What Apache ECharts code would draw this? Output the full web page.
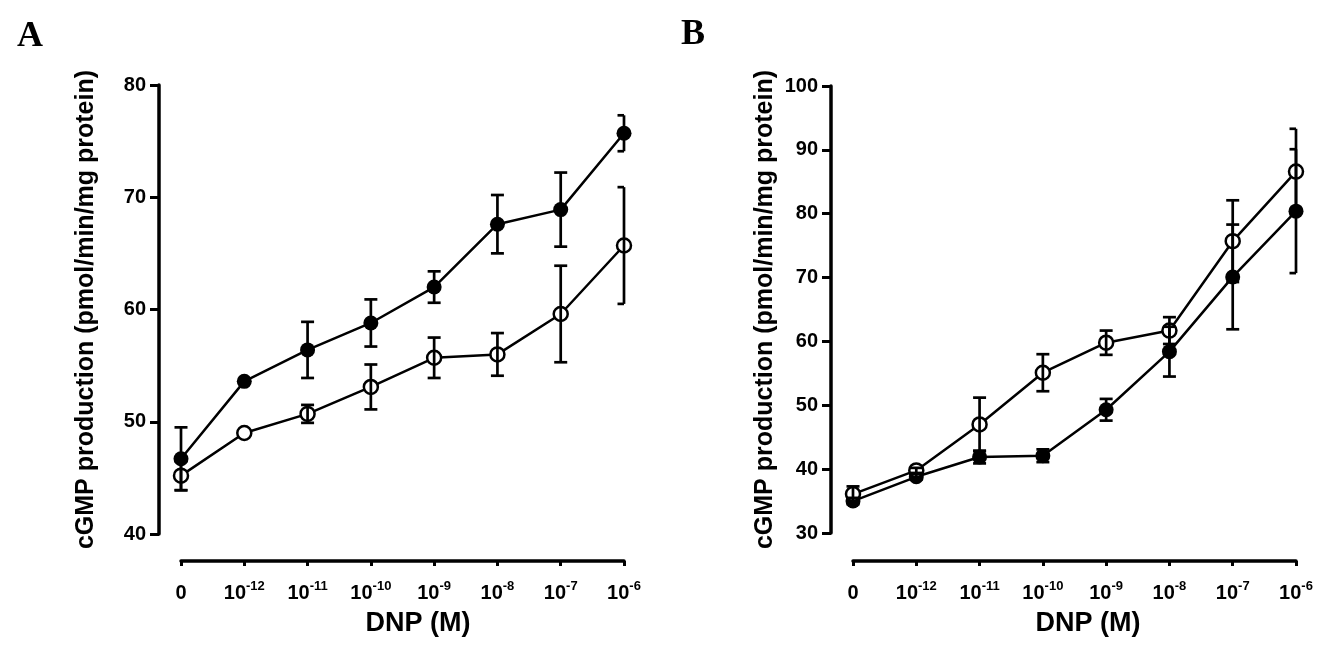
<!DOCTYPE html>
<html>
<head>
<meta charset="utf-8">
<script src="https://cdn.jsdelivr.net/npm/echarts@6/dist/echarts.min.js"></script>
<style>
html,body{margin:0;padding:0;background:#fff;}
#chart{width:1319px;height:656px;}
</style>
</head>
<body>
<div id="chart"></div>
<script>
// ---- data ----
const xExponents = ['0', '-12', '-11', '-10', '-9', '-8', '-7', '-6'];
const yTicksA = { min: 40, max: 80, interval: 10 };
const yTicksB = { min: 30, max: 100, interval: 10 };

const A_filled     = [46.7, 53.6, 56.4, 58.8, 62.0, 67.6, 68.9, 75.7];
const A_filled_err = [2.8, 0, 2.5, 2.1, 1.4, 2.6, 3.3, 1.6];
const A_open       = [45.2, 49.0, 50.7, 53.1, 55.7, 56.0, 59.6, 65.7];
const A_open_err   = [1.3, 0, 0.8, 2.0, 1.8, 1.9, 4.3, 5.2];

const B_open       = [36.1, 39.8, 47.0, 55.1, 59.8, 61.7, 75.7, 86.6];
const B_open_err   = [1.2, 0.4, 4.2, 2.9, 1.9, 2.1, 6.4, 6.7];
const B_filled     = [35.0, 38.8, 41.9, 42.1, 49.3, 58.4, 70.1, 80.4];
const B_filled_err = [0.5, 0.4, 1.0, 1.0, 1.7, 3.9, 8.2, 9.7];

const yTitle = 'cGMP production (pmol/min/mg protein)';
const xTitle = 'DNP (M)';

// ---- chart ----
const FF = '"Liberation Sans", Arial, Helvetica, sans-serif';

function xAxisFor(gi, offset, shift) {
  return {
    type: 'category', gridIndex: gi, data: xExponents, boundaryGap: false,
    offset: offset,
    axisLine: { show: true, onZero: false, lineStyle: { color: '#000', width: 3.5, cap: 'round' } },
    axisTick: { show: true, inside: false, length: 5, lineStyle: { color: '#000', width: 3 } },
    axisLabel: {
      margin: 19, color: '#000', interval: 0,
      formatter: v => v === '0' ? '{b|0}' : '{b|10}{s|' + v + '}',
      rich: {
        b: { fontSize: 20, fontWeight: 'bold', fontFamily: FF, color: '#000', lineHeight: 23, verticalAlign: 'bottom' },
        s: { fontSize: 13, fontWeight: 'bold', fontFamily: FF, color: '#000', lineHeight: 13, verticalAlign: 'top' }
      }
    },
    splitLine: { show: false },
    name: xTitle, nameLocation: 'middle', nameGap: 49,
    nameTextStyle: { fontSize: 27, fontWeight: 'bold', fontFamily: FF, color: '#000', padding: [0, 0, 0, shift] }
  };
}
function yAxisFor(gi, t, nameGap) {
  return {
    type: 'value', gridIndex: gi, min: t.min, max: t.max, interval: t.interval,
    offset: 22,
    axisLine: { show: true, onZero: false, lineStyle: { color: '#000', width: 3.5 } },
    axisTick: { show: true, inside: false, length: 9, lineStyle: { color: '#000', width: 3 } },
    axisLabel: { margin: 13, color: '#000', fontSize: 20, fontWeight: 'bold', fontFamily: FF },
    splitLine: { show: false },
    name: yTitle, nameLocation: 'middle', nameRotate: 90, nameGap: nameGap,
    nameTextStyle: { fontSize: 25, fontWeight: 'bold', fontFamily: FF, color: '#000' }
  };
}

function lineSeries(gi, data, filled) {
  return {
    type: 'line', xAxisIndex: gi, yAxisIndex: gi, data: data,
    symbol: 'circle', symbolSize: filled ? 15 : 14,
    lineStyle: { color: '#000', width: 2.5 },
    itemStyle: filled ? { color: '#000' } : { color: '#fff', borderColor: '#000', borderWidth: 2.5 },
    z: filled ? 3 : 4, animation: false
  };
}
function errSeries(gi, vals, errs) {
  const n = vals.length;
  return {
    type: 'custom', xAxisIndex: gi, yAxisIndex: gi, z: 6, animation: false,
    data: vals.map((v, i) => [i, v, errs[i]]),
    encode: { x: 0, y: 1 },
    renderItem: function (params, api) {
      const x = api.value(0), y = api.value(1), e = api.value(2);
      if (!e) return null;
      const top = api.coord([x, y + e]);
      const bot = api.coord([x, y - e]);
      const hw = 6.5;
      const right = params.dataIndex === n - 1 ? 0 : hw;
      const st = { stroke: '#000', lineWidth: 2.7 };
      return {
        type: 'group',
        children: [
          { type: 'line', shape: { x1: top[0], y1: top[1], x2: bot[0], y2: bot[1] }, style: st },
          { type: 'line', shape: { x1: top[0] - hw, y1: top[1], x2: top[0] + right, y2: top[1] }, style: st },
          { type: 'line', shape: { x1: bot[0] - hw, y1: bot[1], x2: bot[0] + right, y2: bot[1] }, style: st }
        ]
      };
    }
  };
}

const chart = echarts.init(document.getElementById('chart'), null, { renderer: 'canvas' });
chart.setOption({
  backgroundColor: '#fff',
  animation: false,
  grid: [
    { left: 181, right: 695, top: 85, bottom: 122 },
    { left: 853, right: 23, top: 86, bottom: 123 }
  ],
  xAxis: [xAxisFor(0, 27, 31), xAxisFor(1, 28, 27)],
  yAxis: [yAxisFor(0, yTicksA, 60), yAxisFor(1, yTicksB, 53)],
  graphic: [
    { type: 'text', left: 17, top: 19, style: { text: 'A', font: 'bold 36px "Liberation Serif", "Times New Roman", serif', fill: '#000' } },
    { type: 'text', left: 681, top: 17, style: { text: 'B', font: 'bold 36px "Liberation Serif", "Times New Roman", serif', fill: '#000' } }
  ],
  series: [
    lineSeries(0, A_filled, true),
    lineSeries(0, A_open, false),
    errSeries(0, A_filled, A_filled_err),
    errSeries(0, A_open, A_open_err),
    lineSeries(1, B_filled, true),
    lineSeries(1, B_open, false),
    errSeries(1, B_filled, B_filled_err),
    errSeries(1, B_open, B_open_err)
  ]
});
</script>
</body>
</html>
